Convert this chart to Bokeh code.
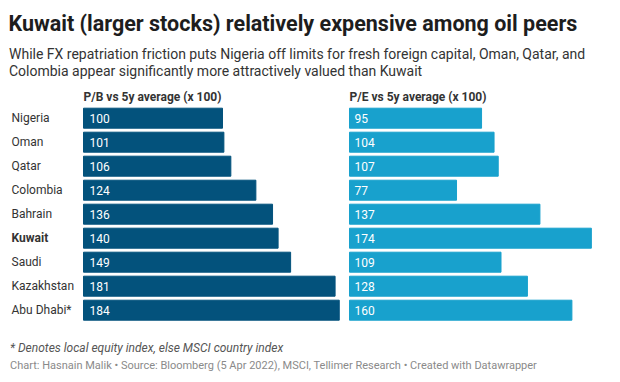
from bokeh.plotting import figure
from bokeh.models import ColumnDataSource, Range1d
from bokeh.core.properties import value
from bokeh.embed import file_html
from bokeh.resources import INLINE

# ---- data ----
countries = ["Nigeria", "Oman", "Qatar", "Colombia", "Bahrain", "Kuwait", "Saudi", "Kazakhstan", "Abu Dhabi*"]
pb = [100, 101, 106, 124, 136, 140, 149, 181, 184]
pe = [95, 104, 107, 77, 137, 174, 109, 128, 160]
highlight = "Kuwait"

title = "Kuwait (larger stocks) relatively expensive among oil peers"
subtitle1 = "While FX repatriation friction puts Nigeria off limits for fresh foreign capital, Oman, Qatar, and"
subtitle2 = "Colombia appear significantly more attractively valued than Kuwait"
head_pb = "P/B vs 5y average (x 100)"
head_pe = "P/E vs 5y average (x 100)"
note = "* Denotes local equity index, else MSCI country index"
source = "Chart: Hasnain Malik \u2022 Source: Bloomberg (5 Apr 2022), MSCI, Tellimer Research \u2022 Created with Datawrapper"

# ---- layout constants ----
W, H = 604, 374
K = 1.39            # px per unit
LZ = 83             # left panel zero (px in figure)
RZ = 349            # right panel zero
ROW0 = 117.7        # first row center (px from top)
PITCH = 24.0

def vy(px):
    return (px - ROW0) / PITCH

def lx(px):
    return (px - LZ) / K

FONT = value("Roboto")

p = figure(width=W, height=H, output_backend="svg", toolbar_location=None,
           x_range=Range1d(-LZ / K, (W - LZ) / K),
           y_range=Range1d(vy(H), vy(0)),
           min_border=0, min_border_left=0, min_border_right=0,
           min_border_top=0, min_border_bottom=0)
p.extra_x_ranges = {"pe": Range1d(-RZ / K, (W - RZ) / K)}
p.axis.visible = False
p.grid.visible = False
p.outline_line_color = None
p.background_fill_color = "white"
p.border_fill_color = "white"

idx = list(range(len(countries)))
src = ColumnDataSource(dict(
    y=idx, country=countries, pb=pb, pe=pe,
    pb_lab=[str(v) for v in pb], pe_lab=[str(v) for v in pe],
    style=["bold" if c == highlight else "normal" for c in countries],
    lx=[lx(11)] * len(idx),
))

p.hbar(y="y", left=0, right="pb", height=20 / PITCH, color="#03527c", source=src)
p.hbar(y="y", left=0, right="pe", height=20 / PITCH, color="#18a1cd", source=src, x_range_name="pe")

p.text(x=6 / K, y="y", text="pb_lab", source=src, text_color="white", text_font=FONT,
       text_font_size="12px", text_baseline="middle")
p.text(x=5 / K, y="y", text="pe_lab", source=src, text_color="white", text_font=FONT,
       text_font_size="12px", text_baseline="middle", x_range_name="pe")
p.text(x="lx", y="y", text="country", source=src, text_color="#333333", text_font=FONT,
       text_font_size="12px", text_baseline="middle", text_font_style="style")

# headers
p.text(x=[0], y=[vy(96.5)], text=[head_pb], text_font=FONT, text_font_size="12px",
       text_font_style="bold", text_color="#333333", text_baseline="middle")
p.text(x=[0], y=[vy(96.5)], text=[head_pe], text_font=FONT, text_font_size="12px",
       text_font_style="bold", text_color="#333333", text_baseline="middle", x_range_name="pe")

# title / subtitle
p.text(x=[lx(8)], y=[vy(22.5)], text=[title], text_font=FONT, text_font_size="21.5px",
       text_font_style="bold", text_color="#1d1d1d", text_baseline="middle")
p.text(x=[lx(8.5)], y=[vy(53.3)], text=[subtitle1], text_font=FONT, text_font_size="14px",
       text_color="#333333", text_baseline="middle")
p.text(x=[lx(8.5)], y=[vy(70.3)], text=[subtitle2], text_font=FONT, text_font_size="14px",
       text_color="#333333", text_baseline="middle")

# footer
p.text(x=[lx(9.5)], y=[vy(347.8)], text=[note], text_font=FONT, text_font_size="12px",
       text_font_style="italic", text_color="#555555", text_baseline="middle")
p.text(x=[lx(9.5)], y=[vy(365)], text=[source], text_font=FONT, text_font_size="11px",
       text_color="#8a8a8a", text_baseline="middle")

open("out.html", "w").write(file_html(p, INLINE))
